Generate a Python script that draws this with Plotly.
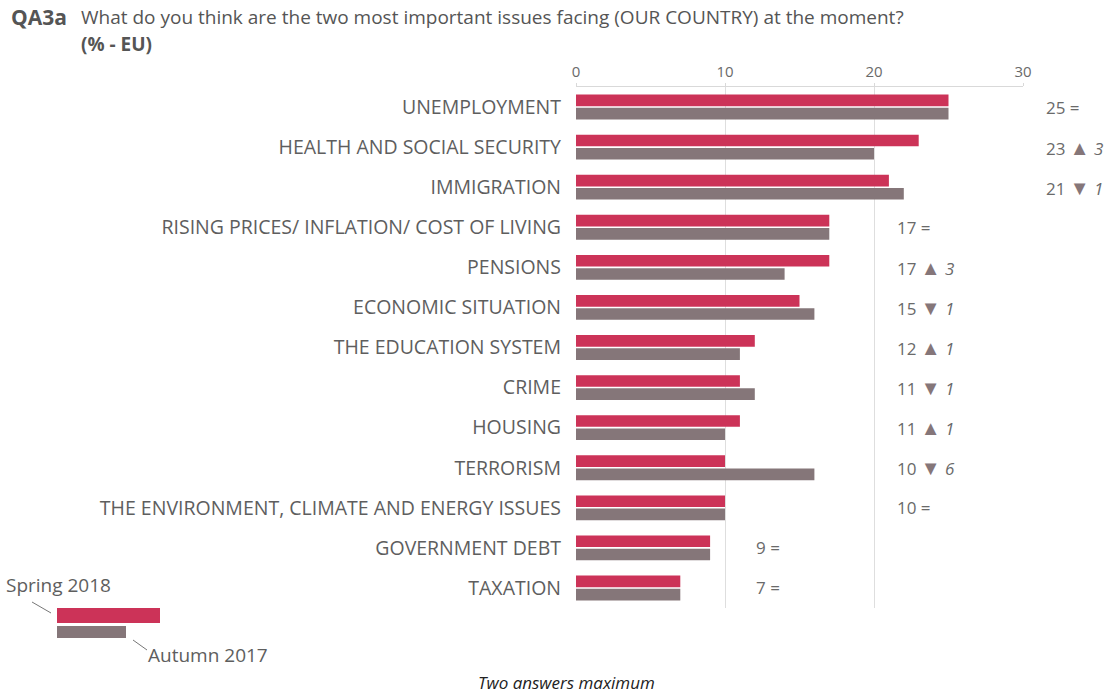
import plotly.graph_objects as go

# Survey answers (% - EU)
issues = [
    "UNEMPLOYMENT",
    "HEALTH AND SOCIAL SECURITY",
    "IMMIGRATION",
    "RISING PRICES/ INFLATION/ COST OF LIVING",
    "PENSIONS",
    "ECONOMIC SITUATION",
    "THE EDUCATION SYSTEM",
    "CRIME",
    "HOUSING",
    "TERRORISM",
    "THE ENVIRONMENT, CLIMATE AND ENERGY ISSUES",
    "GOVERNMENT DEBT",
    "TAXATION",
]
spring_2018 = [25, 23, 21, 17, 17, 15, 12, 11, 11, 10, 10, 9, 7]
autumn_2017 = [25, 20, 22, 17, 14, 16, 11, 12, 10, 16, 10, 9, 7]
x_ticks = [0, 10, 20, 30]

W, H = 1113, 695
ML, MR, MT, MB = 576, 90, 87, 87
PW, PH = W - ML - MR, H - MT - MB

RED = "#cc3358"
MAUVE = "#857679"
TXT = "#5e5e5e"
FONT = "Open Sans, Noto Sans, sans-serif"


def px(x):
    return (x - ML) / PW


def py(y):
    return (H - MB - y) / PH


fig = go.Figure()
fig.add_trace(go.Bar(y=issues, x=spring_2018, orientation="h", name="Spring 2018",
                     marker=dict(color=RED, line=dict(width=0))))
fig.add_trace(go.Bar(y=issues, x=autumn_2017, orientation="h", name="Autumn 2017",
                     marker=dict(color=MAUVE, line=dict(width=0))))

# value labels with change versus previous wave
annotations = []
for i, (name, s, a) in enumerate(zip(issues, spring_2018, autumn_2017)):
    d = s - a
    if d > 0:
        chg = f"<span style='color:{MAUVE};font-size:20px'>▲</span> <i>{d}</i>"
    elif d < 0:
        chg = f"<span style='color:{MAUVE};font-size:20px'>▼</span> <i>{-d}</i>"
    else:
        chg = "="
    if s >= 20:
        xpix = 1044
    elif s >= 10:
        xpix = 895
    else:
        xpix = 754
    annotations.append(dict(x=px(xpix), y=name, xref="paper", yref="y", text=f"{s} {chg}",
                            showarrow=False, xanchor="left", yanchor="middle",
                            font=dict(size=17, color="#6a6a6a", family=FONT)))

# title lines
annotations += [
    dict(x=px(9), y=py(17), xref="paper", yref="paper", xanchor="left", yanchor="middle",
         text="<b>QA3a</b>", showarrow=False, font=dict(size=21, color="#555555", family=FONT)),
    dict(x=px(79), y=py(17), xref="paper", yref="paper", xanchor="left", yanchor="middle",
         text="What do you think are the two most important issues facing (OUR COUNTRY) at the moment?",
         showarrow=False, font=dict(size=19, color="#555555", family=FONT)),
    dict(x=px(79), y=py(44), xref="paper", yref="paper", xanchor="left", yanchor="middle",
         text="<b>(% - EU)</b>", showarrow=False, font=dict(size=19, color="#555555", family=FONT)),
    # legend labels
    dict(x=px(4), y=py(585), xref="paper", yref="paper", xanchor="left", yanchor="middle",
         text="Spring 2018", showarrow=False, font=dict(size=19, color=TXT, family=FONT)),
    dict(x=px(146), y=py(655), xref="paper", yref="paper", xanchor="left", yanchor="middle",
         text="Autumn 2017", showarrow=False, font=dict(size=19, color=TXT, family=FONT)),
    # footnote
    dict(x=px(566), y=py(682), xref="paper", yref="paper", xanchor="center", yanchor="middle",
         text="<i>Two answers maximum</i>", showarrow=False,
         font=dict(size=17, color="#222222", family=FONT)),
]

shapes = [
    dict(type="rect", xref="paper", yref="paper", x0=px(57), x1=px(160), y0=py(608), y1=py(623),
         fillcolor=RED, line=dict(width=0)),
    dict(type="rect", xref="paper", yref="paper", x0=px(57), x1=px(126), y0=py(626), y1=py(638),
         fillcolor=MAUVE, line=dict(width=0)),
    dict(type="line", xref="paper", yref="paper", x0=px(32), x1=px(51), y0=py(602), y1=py(613),
         line=dict(color="#777777", width=1)),
    dict(type="line", xref="paper", yref="paper", x0=px(133), x1=px(147), y0=py(640), y1=py(650),
         line=dict(color="#777777", width=1)),
]

fig.update_layout(
    width=W, height=H,
    margin=dict(l=ML, r=MR, t=MT, b=MB),
    paper_bgcolor="white", plot_bgcolor="white",
    barmode="group", bargap=0.34, bargroupgap=0.12,
    showlegend=False,
    font=dict(family=FONT, color=TXT),
    annotations=annotations,
    shapes=shapes,
    xaxis=dict(range=[0, 30], side="top", tickvals=x_ticks, ticks="outside", ticklen=3,
               tickcolor="#d9d9d9", showline=True, linecolor="#d9d9d9", linewidth=1,
               showgrid=True, gridcolor="#dedede", gridwidth=1, zeroline=False,
               tickfont=dict(size=15, color="#6a6a6a", family=FONT)),
    yaxis=dict(autorange="reversed", showgrid=False, ticks="", ticklabelstandoff=14,
               showline=False, tickfont=dict(size=19.5, color=TXT, family=FONT)),
)

fig.write_html("out.html")
